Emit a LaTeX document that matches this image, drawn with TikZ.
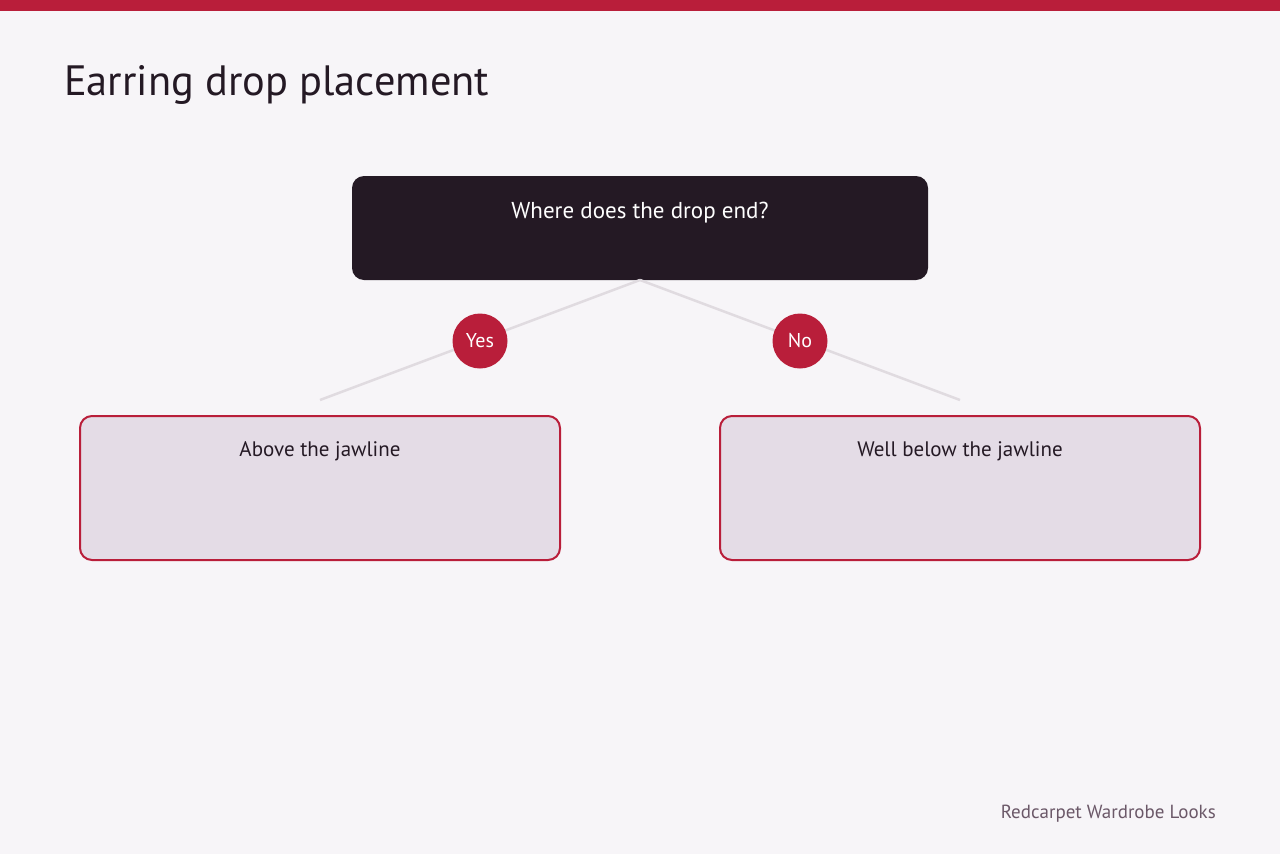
\documentclass[tikz,border=0pt]{standalone}
\usepackage{fontspec}
\setmainfont{PT Sans}
\definecolor{bg}{HTML}{F7F5F8}
\definecolor{accent}{HTML}{B91E3A}
\definecolor{dark}{HTML}{241924}
\definecolor{leaf}{HTML}{E4DCE6}
\definecolor{edge}{HTML}{E0DBE0}
\definecolor{foot}{HTML}{6B5868}
\begin{document}
\begin{tikzpicture}[x=1pt,y=-1pt,
  root/.style={draw=none,fill=dark,rounded corners=12pt,minimum width=576pt,minimum height=104pt,inner sep=0pt},
  leafbox/.style={draw=accent,line width=2pt,fill=leaf,rounded corners=12pt,minimum width=480pt,minimum height=144pt,inner sep=0pt},
  badge/.style={circle,fill=accent,minimum size=55pt,inner sep=0pt,text=white,font=\fontsize{20}{24}\selectfont},
  link/.style={draw=edge,line width=2.5pt},
  lbl/.style={anchor=base}]
\fill[bg] (0,0) rectangle (1280,854);
\useasboundingbox (0,0) rectangle (1280,854);
\fill[accent] (0,0) rectangle (1280,11);
\node[anchor=base west,inner sep=0pt,text=dark,font=\fontsize{42.4}{50}\selectfont] (title) at (64,95) {Earring drop placement};
\node[root] (q) at (640,228) {};
\node[lbl,text=white,font=\fontsize{23}{27}\selectfont] (qt) at (640,218) {Where does the drop end?};
\node[leafbox] (a) at (320,488) {};
\node[leafbox] (b) at (960,488) {};
\node[lbl,text=dark,font=\fontsize{21}{25}\selectfont] (at) at (320,456) {Above the jawline};
\node[lbl,text=dark,font=\fontsize{21}{25}\selectfont] (bt) at (960,456) {Well below the jawline};
\coordinate (qs) at (640,280);
\coordinate (ae) at (320,400);
\coordinate (be) at (960,400);
\draw[link] (qs) -- (ae);
\draw[link] (qs) -- (be);
\node[badge] (yes) at (480,341) {Yes};
\node[badge] (no) at (800,341) {No};
\node[anchor=base east,inner sep=0pt,text=foot,font=\fontsize{19}{23}\selectfont] (ft) at (1216,818) {Redcarpet Wardrobe Looks};
\end{tikzpicture}
\end{document}
